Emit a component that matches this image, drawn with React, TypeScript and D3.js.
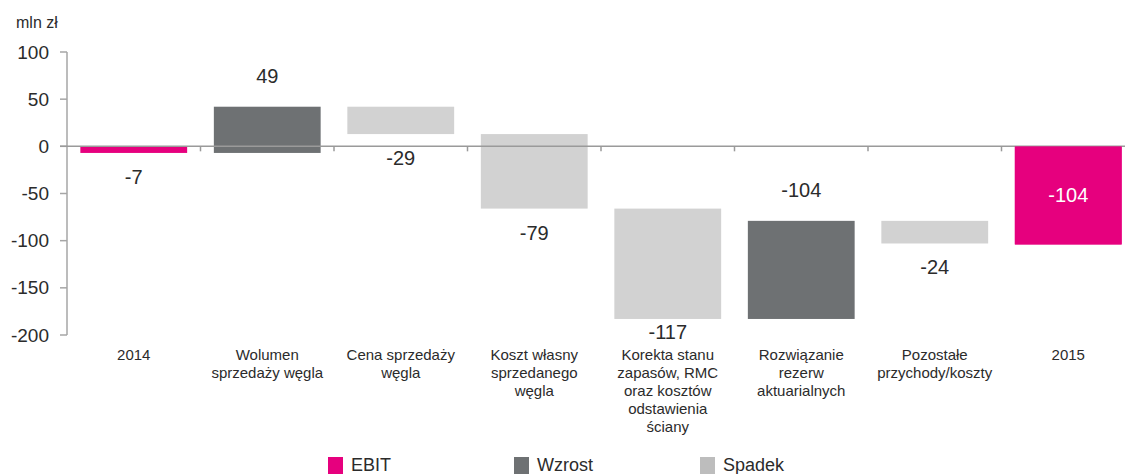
import * as d3 from "d3";

const categories = [
  "2014",
  "Wolumen\nsprzedaży węgla",
  "Cena sprzedaży\nwęgla",
  "Koszt własny\nsprzedanego\nwęgla",
  "Korekta stanu\nzapasów, RMC\noraz kosztów\nodstawienia\nściany",
  "Rozwiązanie\nrezerw\naktuarialnych",
  "Pozostałe\nprzychody/koszty",
  "2015",
];
const values = [-7, 49, -29, -79, -117, 104, -24, -104];
const valueLabels = ["-7", "49", "-29", "-79", "-117", "-104", "-24", "-104"];
const kinds = ["ebit", "up", "down", "down", "down", "up", "down", "ebit"];
const yTicks = [100, 50, 0, -50, -100, -150, -200];
const legendItems = [
  { key: "ebit", label: "EBIT" },
  { key: "up", label: "Wzrost" },
  { key: "down", label: "Spadek" },
];

const colors: Record<string, string> = {
  ebit: "#e6007e",
  up: "#6e7173",
  down: "#d2d2d2",
};

const W = 1125;
const H = 474;
const FONT = "'Liberation Sans', Arial, sans-serif";
const TEXT = "#2b2b2b";

export default function App() {
  const x = d3
    .scaleBand<string>()
    .domain(categories)
    .range([67, 67 + 133.5 * 8])
    .paddingInner(0.2)
    .paddingOuter(0.1);
  const y = d3.scaleLinear().domain([-200, 100]).range([335, 52]);
  const step = x.step();

  // waterfall: ebit bars start at 0, others from the running total
  let run = 0;
  const bars = values.map((v, i) => {
    let from: number, to: number;
    if (kinds[i] === "ebit") {
      from = 0;
      to = v;
      run = v;
    } else {
      from = run;
      to = run + v;
      run = to;
    }
    return { cat: categories[i], from, to, kind: kinds[i], label: valueLabels[i], last: i === values.length - 1 };
  });

  const legendX = d3.scalePoint<string>().domain(legendItems.map((d) => d.key)).range([328, 700]);

  return (
    <svg
      width={W}
      height={H}
      style={{ position: "absolute", left: 0, top: 0, background: "#fff" }}
      fontFamily={FONT}
    >
      <text x={16} y={28} fontSize={16} fill={TEXT}>
        mln zł
      </text>

      {/* y axis */}
      <line x1={67} x2={67} y1={y(100)} y2={y(-200)} stroke="#a6a6a6" strokeWidth={1.5} />
      {yTicks.map((t) => (
        <g key={t}>
          <line x1={60} x2={67} y1={y(t)} y2={y(t)} stroke="#a6a6a6" strokeWidth={1.5} />
          <text x={49} y={y(t)} dy="0.35em" textAnchor="end" fontSize={19} fill={TEXT}>
            {t}
          </text>
        </g>
      ))}

      {/* bars */}
      {bars.map((b) => {
        const top = y(Math.max(b.from, b.to));
        const bottom = y(Math.min(b.from, b.to));
        return (
          <rect
            key={b.cat}
            x={x(b.cat)}
            y={top}
            width={x.bandwidth()}
            height={bottom - top}
            fill={colors[b.kind]}
          />
        );
      })}

      {/* zero line with category ticks */}
      <line x1={60} x2={x.range()[1]} y1={y(0)} y2={y(0)} stroke="#9a9a9a" strokeWidth={1.5} />
      {categories.map((c, i) => {
        const bx = 67 + step * (i + 1);
        return <line key={c} x1={bx} x2={bx} y1={y(0)} y2={y(0) + 5} stroke="#9a9a9a" strokeWidth={1.5} />;
      })}

      {/* redraw the last ebit bar over the zero line */}
      {bars
        .filter((b) => b.last)
        .map((b) => (
          <rect
            key="last"
            x={x(b.cat)}
            y={y(0)}
            width={x.bandwidth()}
            height={y(b.to) - y(0)}
            fill={colors[b.kind]}
          />
        ))}

      {/* value labels */}
      {bars.map((b) => {
        const cx = (x(b.cat) ?? 0) + x.bandwidth() / 2;
        let ly: number;
        let fill = TEXT;
        if (b.last) {
          ly = y(b.to / 2);
          fill = "#fff";
        } else if (b.kind === "up") {
          ly = y(Math.max(b.from, b.to)) - 31;
        } else {
          ly = Math.min(y(Math.min(b.from, b.to)) + 24, y(-200) - 3);
        }
        return (
          <text key={b.cat} x={cx} y={ly} dy="0.35em" textAnchor="middle" fontSize={20} fill={fill}>
            {b.label}
          </text>
        );
      })}

      {/* category labels */}
      {categories.map((c) => {
        const cx = (x(c) ?? 0) + x.bandwidth() / 2;
        return (
          <text key={c} x={cx} y={360} textAnchor="middle" fontSize={15} fill={TEXT}>
            {c.split("\n").map((line, j) => (
              <tspan key={j} x={cx} dy={j === 0 ? 0 : 18}>
                {line}
              </tspan>
            ))}
          </text>
        );
      })}

      {/* legend */}
      {legendItems.map((d) => {
        const lx = legendX(d.key) ?? 0;
        return (
          <g key={d.key}>
            <rect x={lx} y={457} width={15} height={17} fill={d.key === "down" ? "#bdbdbd" : colors[d.key]} />
            <text x={lx + 23} y={471} fontSize={18} fill={TEXT}>
              {d.label}
            </text>
          </g>
        );
      })}
    </svg>
  );
}
